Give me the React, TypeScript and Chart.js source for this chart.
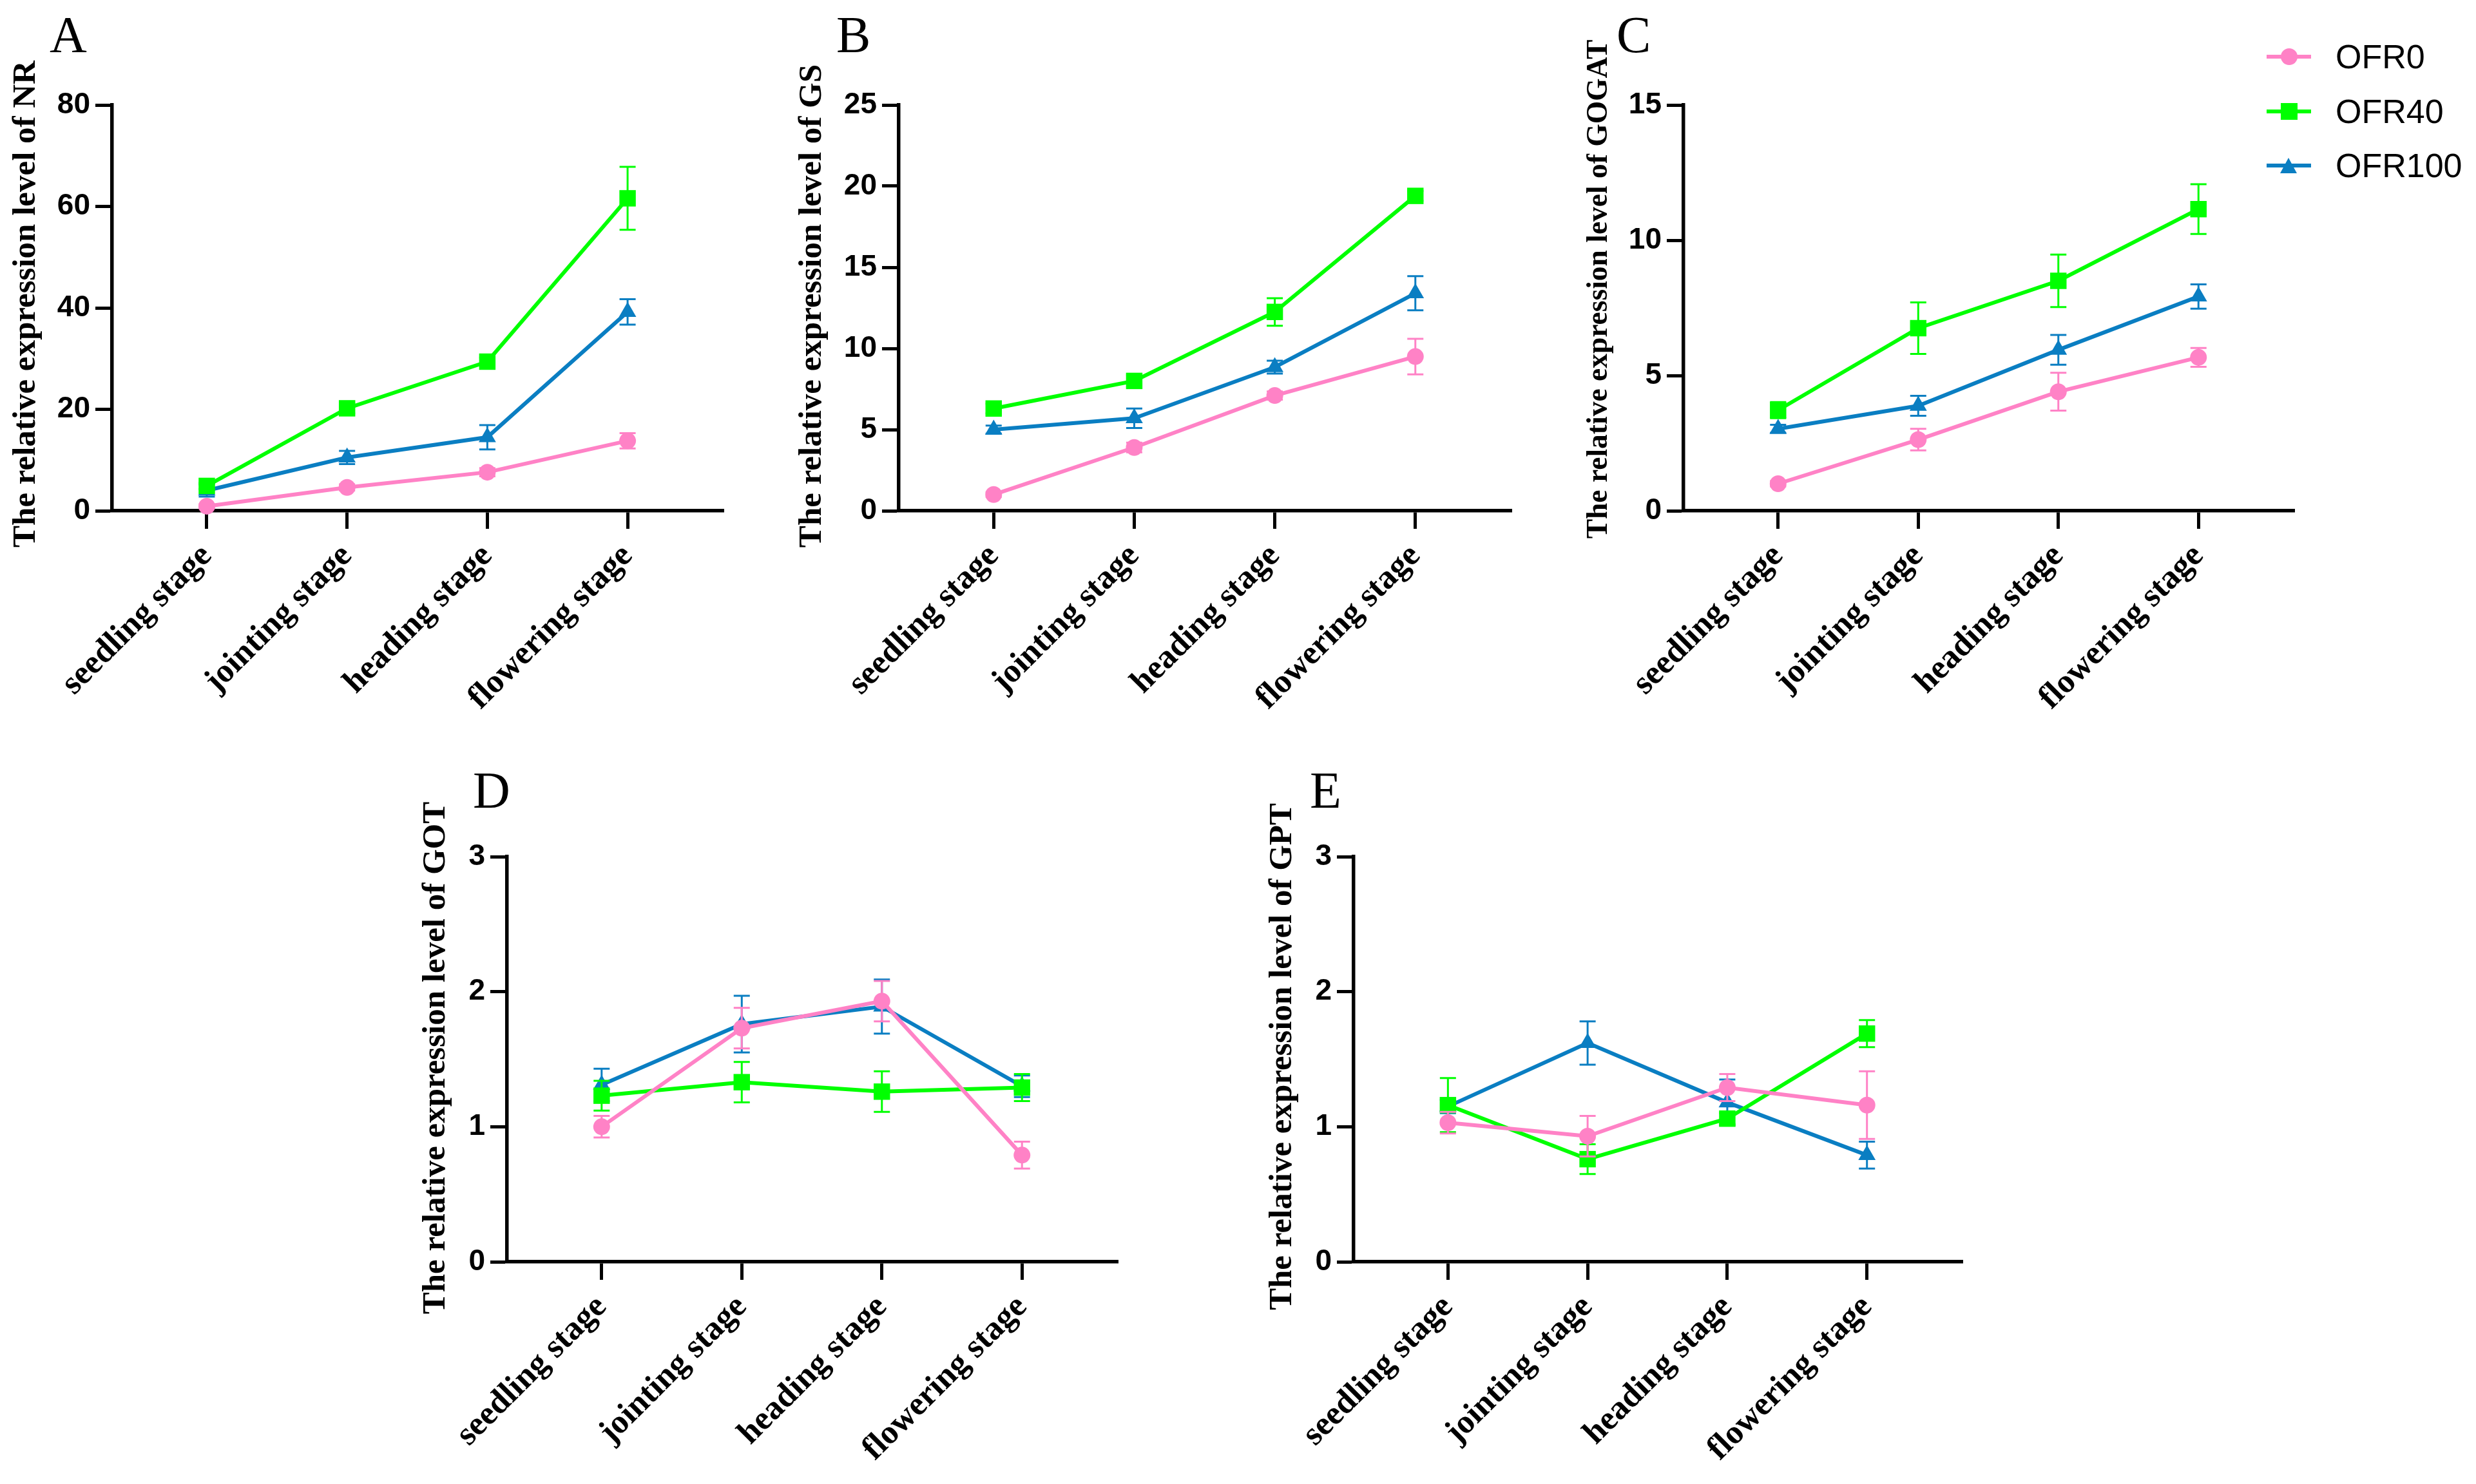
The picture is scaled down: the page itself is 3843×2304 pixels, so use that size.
import { useEffect, useRef } from "react"
import { Chart, registerables } from "chart.js"

Chart.register(...registerables)

const STAGES = ["seedling stage", "jointing stage", "heading stage", "flowering stage"]
const SERIES = ["OFR0", "OFR40", "OFR100"]
const COLORS = ["#FF82C6", "#00FF00", "#0A7EC2"]
const MARKERS = ["circle", "rect", "triangle"]
const RADII = [13, 18, 15.5]

// A - NR
const NR_OFR0 = [0.9, 4.6, 7.6, 13.8]
const NR_OFR0_ERR = [0.4, 0.6, 0.8, 1.5]
const NR_OFR40 = [4.9, 20.2, 29.4, 61.6]
const NR_OFR40_ERR = [0.6, 1.0, 0.8, 6.2]
const NR_OFR100 = [4.0, 10.5, 14.5, 39.2]
const NR_OFR100_ERR = [1.2, 1.3, 2.4, 2.5]

// B - GS
const GS_OFR0 = [1.0, 3.9, 7.1, 9.5]
const GS_OFR0_ERR = [0.15, 0.3, 0.25, 1.1]
const GS_OFR40 = [6.3, 8.0, 12.25, 19.4]
const GS_OFR40_ERR = [0.3, 0.35, 0.85, 0.3]
const GS_OFR100 = [5.0, 5.7, 8.85, 13.4]
const GS_OFR100_ERR = [0.25, 0.6, 0.4, 1.05]

// C - GOGAT
const GOGAT_OFR0 = [1.0, 2.63, 4.4, 5.67]
const GOGAT_OFR0_ERR = [0.1, 0.4, 0.7, 0.35]
const GOGAT_OFR40 = [3.72, 6.75, 8.5, 11.15]
const GOGAT_OFR40_ERR = [0.3, 0.95, 0.97, 0.92]
const GOGAT_OFR100 = [3.03, 3.88, 5.95, 7.92]
const GOGAT_OFR100_ERR = [0.15, 0.37, 0.55, 0.45]

// D - GOT
const GOT_OFR0 = [1.0, 1.73, 1.93, 0.79]
const GOT_OFR0_ERR = [0.08, 0.15, 0.15, 0.1]
const GOT_OFR40 = [1.23, 1.33, 1.26, 1.29]
const GOT_OFR40_ERR = [0.11, 0.15, 0.15, 0.1]
const GOT_OFR100 = [1.31, 1.76, 1.89, 1.3]
const GOT_OFR100_ERR = [0.12, 0.21, 0.2, 0.08]

// E - GPT
const GPT_OFR0 = [1.03, 0.93, 1.29, 1.16]
const GPT_OFR0_ERR = [0.08, 0.15, 0.1, 0.25]
const GPT_OFR40 = [1.16, 0.76, 1.06, 1.69]
const GPT_OFR40_ERR = [0.2, 0.11, 0.04, 0.1]
const GPT_OFR100 = [1.15, 1.62, 1.18, 0.79]
const GPT_OFR100_ERR = [0.05, 0.16, 0.17, 0.1]

const YW = 175 // y scale box width
const XH = 320 // x scale box height
const PAD_T = 130
const PAD_R = 30
const SERIF = "'Liberation Serif', 'Times New Roman', serif"
const SANS = "'Liberation Sans', Arial, sans-serif"

const PANELS = [
  { letter: "A", gene: "NR", max: 80, step: 20, area: [174, 163, 1123, 793], gap: 132, dy: -6, titleSize: 51, letterPos: [77, 14],
    values: [NR_OFR0, NR_OFR40, NR_OFR100], errors: [NR_OFR0_ERR, NR_OFR40_ERR, NR_OFR100_ERR] },
  { letter: "B", gene: "GS", max: 25, step: 5, area: [1395, 163, 2346, 793], gap: 133, dy: -3, titleSize: 51, letterPos: [1298, 14],
    values: [GS_OFR0, GS_OFR40, GS_OFR100], errors: [GS_OFR0_ERR, GS_OFR40_ERR, GS_OFR100_ERR] },
  { letter: "C", gene: "GOGAT", max: 15, step: 5, area: [2613, 163, 3561, 793], gap: 129, dy: -29, titleSize: 45.5, letterPos: [2509, 14],
    values: [GOGAT_OFR0, GOGAT_OFR40, GOGAT_OFR100], errors: [GOGAT_OFR0_ERR, GOGAT_OFR40_ERR, GOGAT_OFR100_ERR] },
  { letter: "D", gene: "GOT", max: 3, step: 1, area: [787, 1330, 1735, 1959], gap: 109, dy: -2, titleSize: 51, letterPos: [734, 1187],
    values: [GOT_OFR0, GOT_OFR40, GOT_OFR100], errors: [GOT_OFR0_ERR, GOT_OFR40_ERR, GOT_OFR100_ERR] },
  { letter: "E", gene: "GPT", max: 3, step: 1, area: [2101, 1330, 3046, 1959], gap: 109, dy: -4, titleSize: 51, letterPos: [2033, 1187],
    values: [GPT_OFR0, GPT_OFR40, GPT_OFR100], errors: [GPT_OFR0_ERR, GPT_OFR40_ERR, GPT_OFR100_ERR] },
]

// draws each dataset's error bars right before the dataset itself
const errorBars = {
  id: "errorBars",
  beforeDatasetDraw(chart: any, args: any) {
    const ds = chart.data.datasets[args.index]
    const yScale = chart.scales.y
    const ctx = chart.ctx
    ctx.save()
    ctx.strokeStyle = ds.borderColor
    ctx.lineWidth = 3
    args.meta.data.forEach((pt: any, i: number) => {
      const v = ds.data[i].y
      const e = ds.errors[i]
      const top = yScale.getPixelForValue(v + e)
      const bot = yScale.getPixelForValue(v - e)
      ctx.beginPath()
      ctx.moveTo(pt.x, top)
      ctx.lineTo(pt.x, bot)
      ctx.moveTo(pt.x - 12.5, top)
      ctx.lineTo(pt.x + 12.5, top)
      ctx.moveTo(pt.x - 12.5, bot)
      ctx.lineTo(pt.x + 12.5, bot)
      ctx.stroke()
    })
    ctx.restore()
  },
}

// y-axis title, drawn without the width limit Chart.js puts on axis titles
const yTitle = {
  id: "yTitle",
  afterDraw(chart: any, _args: any, opts: any) {
    const { ctx, chartArea } = chart
    ctx.save()
    ctx.translate(chartArea.left - opts.gap + 0.23 * opts.size, (chartArea.top + chartArea.bottom) / 2 + opts.dy)
    ctx.rotate(-Math.PI / 2)
    ctx.font = `bold ${opts.size}px ${SERIF}`
    ctx.fillStyle = "#000"
    ctx.textAlign = "center"
    ctx.textBaseline = "alphabetic"
    ctx.fillText(opts.text, 0, 0)
    ctx.restore()
  },
}

function Panel({ p }: { p: any }) {
  const chartRef = useRef<HTMLCanvasElement>(null)

  useEffect(() => {
    if (!chartRef.current) return
    const chart = new Chart(chartRef.current, {
      type: "line",
      data: {
        datasets: SERIES.map((name, s) => ({
          label: name,
          data: p.values[s].map((v: number, i: number) => ({ x: i, y: v })),
          errors: p.errors[s],
          borderColor: COLORS[s],
          backgroundColor: COLORS[s],
          borderWidth: 6,
          pointStyle: MARKERS[s],
          pointRadius: RADII[s],
          pointBorderWidth: 0,
          tension: 0,
          clip: false,
        })) as any,
      },
      options: {
        animation: false,
        responsive: true,
        maintainAspectRatio: false,
        layout: { padding: { top: PAD_T, right: PAD_R, left: 0, bottom: 0 } },
        plugins: {
          legend: { display: false },
          tooltip: { enabled: false },
          yTitle: { text: `The relative expression level of ${p.gene}`, gap: p.gap, dy: p.dy, size: p.titleSize },
        } as any,
        scales: {
          x: {
            type: "linear",
            min: -0.675,
            max: 3.684,
            afterFit: (s: any) => { s.height = XH },
            afterBuildTicks: (s: any) => { s.ticks = STAGES.map((_, i) => ({ value: i })) },
            grid: { drawOnChartArea: false, drawTicks: true, tickLength: 28, tickWidth: 5, tickColor: "#000" },
            border: { display: true, width: 5.5, color: "#000" },
            ticks: {
              autoSkip: false,
              minRotation: 45,
              maxRotation: 45,
              padding: 12,
              color: "#000",
              font: { family: SERIF, weight: "bold", size: 52 },
              callback: (v: any) => STAGES[v] ?? "",
            },
          },
          y: {
            min: 0,
            max: p.max,
            afterFit: (s: any) => { s.width = YW },
            grid: { drawOnChartArea: false, drawTicks: true, tickLength: 26, tickWidth: 5, tickColor: "#000" },
            border: { display: true, width: 5.5, color: "#000" },
            ticks: {
              stepSize: p.step,
              padding: 8,
              color: "#000",
              font: { family: SANS, weight: "bold", size: 46 },
            },
          },
        },
      },
      plugins: [errorBars, yTitle],
    })

    return () => chart.destroy()
  }, [p])

  const [l, t, r, b] = p.area
  return (
    <div style={{ position: "absolute", left: l - YW, top: t - PAD_T, width: r - l + YW + PAD_R, height: b - t + PAD_T + XH }}>
      <canvas ref={chartRef} />
    </div>
  )
}

const LEGEND_Y = [88, 173, 257]

export default function App() {
  return (
    <div style={{ position: "absolute", left: 0, top: 0, width: 3843, height: 2304, overflow: "hidden", background: "#fff" }}>
      {PANELS.map((p) => (
        <div key={p.letter}>
          <Panel p={p} />
          <div style={{ position: "absolute", left: p.letterPos[0], top: p.letterPos[1], fontFamily: SERIF, fontSize: 80, lineHeight: 1, color: "#000" }}>
            {p.letter}
          </div>
        </div>
      ))}
      {SERIES.map((name, s) => (
        <div key={name} style={{ position: "absolute", left: 3518, top: LEGEND_Y[s] - 40, height: 80, display: "flex", alignItems: "center" }}>
          <div style={{ position: "relative", width: 69, height: 30 }}>
            <div style={{ position: "absolute", left: 0, top: 12, width: 69, height: 6, background: COLORS[s] }} />
            {s === 0 && <div style={{ position: "absolute", left: 22, top: 2, width: 26, height: 26, borderRadius: "50%", background: COLORS[s] }} />}
            {s === 1 && <div style={{ position: "absolute", left: 22, top: 2, width: 26, height: 26, background: COLORS[s] }} />}
            {s === 2 && <div style={{ position: "absolute", left: 21, top: 3, width: 0, height: 0, borderLeft: "13.5px solid transparent", borderRight: "13.5px solid transparent", borderBottom: `24px solid ${COLORS[s]}` }} />}
          </div>
          <div style={{ marginLeft: 38, fontFamily: SANS, fontSize: 52, color: "#000", lineHeight: 1 }}>{name}</div>
        </div>
      ))}
    </div>
  )
}
